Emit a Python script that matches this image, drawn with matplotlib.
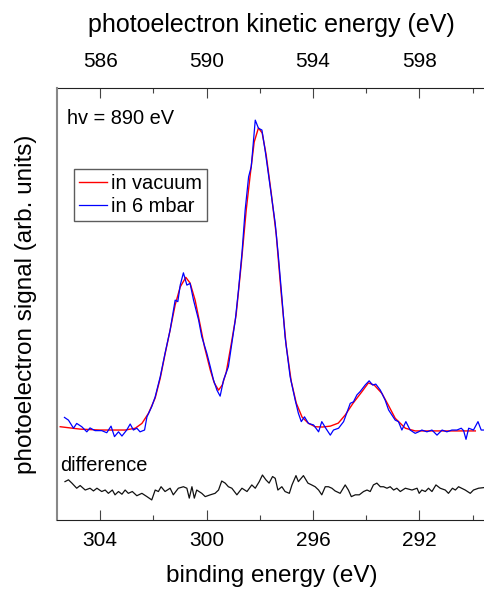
import matplotlib
matplotlib.use("Agg")
import matplotlib.pyplot as plt
from matplotlib.ticker import MultipleLocator
import numpy as np

plt.rcParams['font.family'] = ['Liberation Sans', 'DejaVu Sans']

PHOTON_ENERGY = 890.0  # eV

# in 6 mbar spectrum: binding energy (eV) and signal (arb. units)
be_gas = [305.34, 305.19, 305.00, 304.88, 304.69, 304.50, 304.38, 304.19, 303.94, 303.75,
          303.59, 303.46, 303.31, 303.18, 303.00, 302.87, 302.75, 302.62, 302.50, 302.33,
          302.24, 302.06, 301.93, 301.74, 301.56, 301.37, 301.18, 301.08, 300.99, 300.87,
          300.74, 300.62, 300.49, 300.30, 300.18, 299.99, 299.86, 299.74, 299.61, 299.49,
          299.36, 299.18, 299.05, 298.92, 298.80, 298.67, 298.55, 298.42, 298.32, 298.17,
          298.05, 297.92, 297.80, 297.61, 297.42, 297.30, 297.17, 297.05, 296.86, 296.67,
          296.55, 296.44, 296.32, 296.17, 295.98, 295.79, 295.67, 295.52, 295.35, 295.23,
          295.04, 294.85, 294.69, 294.60, 294.48, 294.35, 294.23, 294.04, 293.89, 293.76,
          293.64, 293.47, 293.29, 293.16, 292.91, 292.79, 292.66, 292.51, 292.35, 292.16,
          292.03, 291.91, 291.72, 291.53, 291.34, 291.15, 290.97, 290.78, 290.59, 290.43,
          290.34, 290.25, 290.15, 289.97, 289.80, 289.68, 289.53]
sig_gas = [4.2, 3.3, 0.6, 2.2, 1.1, -0.6, 0.7, -0.2, -0.2, -0.9,
           1.3, -2.2, -0.6, -2.0, 0.0, 2.0, 0.0, 0.6, -0.6, 0.0,
           4.4, 7.8, 11.1, 17.8, 25.6, 33.3, 43.3, 42.8, 48.3, 52.4,
           48.3, 48.9, 43.3, 36.7, 31.1, 25.6, 21.1, 16.7, 13.3, 11.3,
           16.7, 21.1, 28.9, 36.7, 46.7, 58.9, 73.3, 84.4, 87.8, 103.3,
           100.6, 100.0, 93.3, 81.1, 68.9, 57.8, 44.4, 31.1, 17.8, 10.0,
           5.6, 2.8, 4.4, 2.2, 1.7, -0.6, 2.8, 0.6, -1.7, 0.0,
           0.6, 2.8, 6.7, 8.9, 9.4, 11.7, 12.8, 15.0, 16.4, 15.0,
           15.3, 13.3, 10.0, 6.7, 3.3, 2.8, 0.0, 2.8, 0.0, -1.1,
           -0.6, 0.0, -0.6, 0.0, -1.7, 0.0, -0.6, 0.0, 0.0, 0.6,
           -0.2, -3.1, 0.6, 0.0, 2.8, 0.0, 0.0]

# in vacuum spectrum (smooth)
be_vac = [305.50, 304.75, 304.00, 303.06, 302.68, 302.43, 302.18, 301.93, 301.74, 301.56,
          301.37, 301.18, 300.99, 300.78, 300.62, 300.43, 300.24, 300.08, 299.86, 299.71,
          299.55, 299.41, 299.26, 299.08, 298.89, 298.70, 298.51, 298.36, 298.21, 298.05,
          297.91, 297.76, 297.57, 297.38, 297.20, 297.01, 296.82, 296.63, 296.41, 296.18,
          295.92, 295.65, 295.35, 295.05, 294.79, 294.49, 294.16, 293.92, 293.70, 293.41,
          293.17, 292.91, 292.53, 292.16, 291.22, 289.90]
sig_vac = [1.1, 0.3, 0.0, 0.0, 0.6, 2.2, 5.6, 10.7, 17.3, 25.3,
           33.3, 41.7, 47.7, 50.9, 49.0, 43.3, 35.0, 27.8, 20.0, 15.7,
           13.3, 15.0, 19.3, 28.3, 38.3, 55.0, 73.3, 85.0, 96.0, 100.7,
           99.0, 91.7, 79.0, 65.0, 46.0, 28.3, 16.3, 9.0, 4.3, 2.3,
           1.1, 1.0, 1.3, 2.3, 5.0, 9.0, 12.8, 15.7, 15.0, 12.2,
           8.3, 3.9, 0.6, -0.3, -0.3, -0.3]

# difference trace
be_diff = [305.32, 305.19, 305.06, 304.88, 304.75, 304.56, 304.38, 304.25, 304.12, 303.94,
           303.81, 303.69, 303.54, 303.44, 303.31, 303.18, 303.06, 302.94, 302.79, 302.62,
           302.43, 302.24, 302.06, 301.93, 301.81, 301.71, 301.56, 301.37, 301.25, 301.06,
           300.87, 300.74, 300.65, 300.55, 300.46, 300.37, 300.18, 300.05, 299.86, 299.68,
           299.55, 299.43, 299.30, 299.18, 299.05, 298.86, 298.67, 298.48, 298.30, 298.17,
           298.02, 297.90, 297.77, 297.65, 297.52, 297.42, 297.32, 297.17, 297.05, 296.89,
           296.79, 296.64, 296.55, 296.36, 296.19, 296.05, 295.92, 295.79, 295.67, 295.54,
           295.42, 295.29, 295.17, 294.98, 294.79, 294.67, 294.56, 294.41, 294.26, 294.10,
           293.97, 293.85, 293.73, 293.60, 293.47, 293.35, 293.22, 293.10, 292.97, 292.85,
           292.72, 292.53, 292.28, 292.09, 292.01, 291.91, 291.78, 291.66, 291.53, 291.38,
           291.22, 291.03, 290.91, 290.76, 290.65, 290.53, 290.28, 290.09, 289.97, 289.78,
           289.59]
sig_diff = [2.1, 2.7, 1.6, -0.1, 0.8, -0.7, -0.1, -1.0, -0.1, -1.2,
            -0.7, -1.8, -0.7, -2.3, -1.2, -2.1, -0.7, -1.8, -1.2, -2.6,
            -1.8, -2.9, -4.0, -0.7, -1.2, 0.4, -1.2, -0.1, -2.3, -0.1,
            0.4, -0.1, -3.4, 0.4, -3.4, -0.7, -1.8, -2.9, -2.3, -1.8,
            -0.7, 2.3, 1.6, 0.4, -0.1, -2.3, -0.1, -1.2, 1.0, -0.1,
            2.1, 4.3, 2.7, 1.6, 3.8, 3.2, -0.7, 0.4, -1.2, -1.8,
            1.0, 4.1, 2.1, 4.1, 1.6, 1.0, 0.4, -0.7, -2.3, 0.4,
            0.4, -0.1, -1.0, -1.8, 1.0, -0.7, -2.9, -2.3, -2.3, -1.2,
            -0.7, -1.2, 1.0, 1.6, 0.4, 0.4, -0.1, 0.4, -0.7, -0.1,
            -1.2, -0.1, -0.7, -0.1, -1.8, -0.7, -1.2, -0.1, -1.2, 1.0,
            -0.1, -0.7, -1.8, -0.1, -0.7, 0.4, -0.7, -1.8, -0.7, -0.1,
            0.1]
diff_offset = -19.3

fig = plt.figure(figsize=(4.85, 5.90), dpi=100)
ax = fig.add_axes([0.117, 0.1186, 0.885, 0.7322])

ax.plot(be_vac, sig_vac, color='#ff0000', lw=1.0, label='in vacuum')
ax.plot(be_gas, sig_gas, color='#0000ff', lw=0.9, label='in 6 mbar')
ax.plot(be_diff, np.array(sig_diff) + diff_offset, color='#111111', lw=0.9)

ax.set_xlim(305.63, 289.5)
ax.set_ylim(-30, 114)

ax.xaxis.set_major_locator(MultipleLocator(4))
ax.xaxis.set_minor_locator(MultipleLocator(2))
ax.tick_params(axis='x', which='major', direction='in', length=7.2, width=0.8,
               color='#444444', labelsize=15, pad=8)
ax.tick_params(axis='x', which='minor', direction='in', length=3.6, width=0.8,
               color='#444444')
ax.tick_params(axis='y', left=False, labelleft=False)
ax.tick_params(axis='x', top=False)

ax.spines['right'].set_visible(False)
ax.spines['top'].set_visible(False)
ax.spines['left'].set_color('#888888')
ax.spines['left'].set_linewidth(1.5)
ax.spines['bottom'].set_color('#222222')

ax.set_xlabel('binding energy (eV)', fontsize=17.5, labelpad=11)
ax.set_ylabel('photoelectron signal (arb. units)', fontsize=17.5, labelpad=14)

# kinetic energy scale on top
top = ax.secondary_xaxis('top', functions=(lambda b: PHOTON_ENERGY - b,
                                            lambda k: PHOTON_ENERGY - k))
top.xaxis.set_minor_locator(MultipleLocator(2))
top.set_xticks([586, 590, 594, 598])
top.tick_params(which='major', direction='in', length=7.2, width=0.8,
                color='#444444', labelsize=15, pad=12)
top.tick_params(which='minor', direction='in', length=3.6, width=0.8,
                color='#444444')
top.spines['top'].set_color('#222222')
top.set_xlabel('photoelectron kinetic energy (eV)', fontsize=18, labelpad=14.5)

ax.text(0.025, 0.93, 'hv = 890 eV', transform=ax.transAxes, fontsize=14.4,
        va='center', ha='left')
ax.text(305.5, -11.7, 'difference', fontsize=14.4, va='center', ha='left')

leg = ax.legend(loc='upper left', bbox_to_anchor=(0.04, 0.812), fontsize=14.4,
                handlelength=1.4, handletextpad=0.2, labelspacing=0.2,
                borderpad=0.25, borderaxespad=0, frameon=True, fancybox=False)
leg.get_frame().set_edgecolor('#333333')
leg.get_frame().set_linewidth(1.0)

fig.savefig('out.png', dpi=100)
